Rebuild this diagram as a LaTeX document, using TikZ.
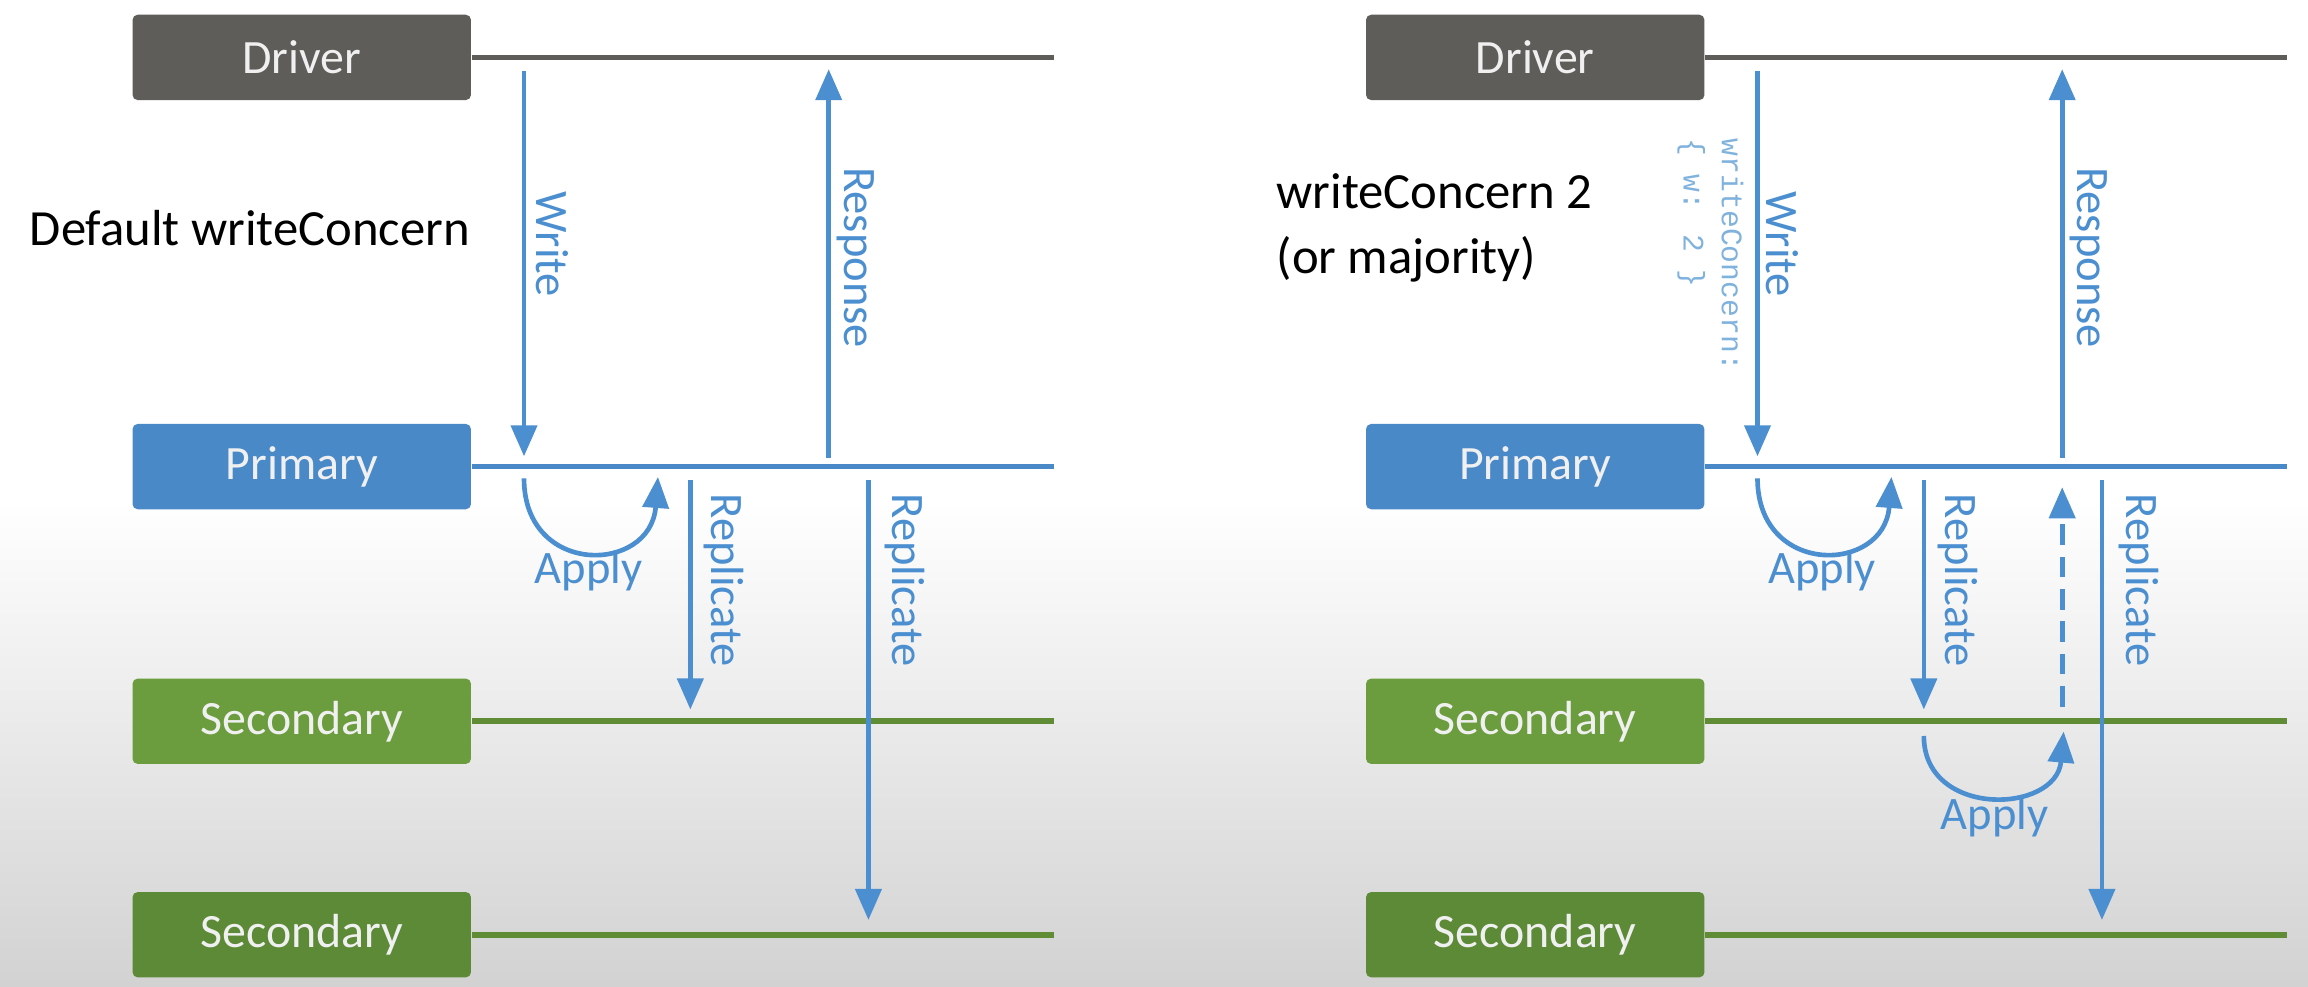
\documentclass[tikz,border=0pt]{standalone}
\usepackage{fontspec}
\setmainfont{Carlito}
\newfontfamily\monof{Liberation Mono}
\usetikzlibrary{arrows.meta}
\definecolor{drivergray}{HTML}{5E5D59}
\definecolor{primblue}{HTML}{4A89C8}
\definecolor{arrblue}{HTML}{4B8FD1}
\definecolor{lightblue}{HTML}{80B2DE}
\definecolor{secgreenA}{HTML}{6B9C3D}
\definecolor{secgreenB}{HTML}{5D8A37}
\definecolor{greenline}{HTML}{5F8C35}
\definecolor{bggray}{HTML}{D2D2D2}
\begin{document}
\begin{tikzpicture}[x=0.02cm,y=-0.02cm,
  box/.style={rounded corners=2pt, minimum width=4.6cm, minimum height=1.16cm,
    text=white!94!black, font=\fontsize{18.5}{20}\selectfont, inner sep=0pt},
  hline/.style={line width=2.2pt},
  arr/.style={draw=arrblue, line width=1.8pt, -{Triangle[length=12pt,width=10pt]}},
  vlbl/.style={text=arrblue, font=\fontsize{18}{20}\selectfont, rotate=-90, inner sep=0pt},
  hlbl/.style={text=arrblue, font=\fontsize{18}{20}\selectfont, inner sep=0pt},
  title/.style={text=black, font=\fontsize{19.6}{25}\selectfont, align=left, anchor=west, inner sep=0pt},
  mono/.style={text=lightblue, font=\monof\fontsize{11.5}{14.8}\selectfont, rotate=-90, align=left, anchor=west, inner sep=0pt}
]
\useasboundingbox (0,0) rectangle (1568,670);
\fill[white] (0,0) rectangle (1568,670);
\shade[top color=white, bottom color=bggray] (0,340) rectangle (1568,670);

% ================= LEFT PANEL =================
\node[box, fill=drivergray] (dL) at (205,39) {Driver};
\node[box, fill=primblue] (pL) at (205,317) {Primary};
\node[box, fill=secgreenA] (saL) at (205,490) {Secondary};
\node[box, fill=secgreenB] (sbL) at (205,635) {Secondary};

\coordinate (dLe) at (716,39);
\coordinate (pLe) at (716,317);
\coordinate (saLe) at (716,490);
\coordinate (sbLe) at (716,635);
\draw[hline, draw=drivergray] (dL.east) -- (dLe);
\draw[hline, draw=primblue] (pL.east) -- (pLe);
\draw[hline, draw=greenline] (saL.east) -- (saLe);
\draw[hline, draw=greenline] (sbL.east) -- (sbLe);

\node[title] (tL) at (20,155) {Default writeConcern};

% Write
\coordinate (wLa) at (356,48);
\coordinate (wLb) at (356,310);
\draw[arr] (wLa) -- (wLb);
\node[vlbl] (wLl) at (375,166) {Write};
% Response
\coordinate (rLa) at (563,311);
\coordinate (rLb) at (563,47);
\draw[arr] (rLa) -- (rLb);
\node[vlbl] (rLl) at (581,175) {Response};
% Apply on primary
\coordinate (aLa) at (356,325);
\coordinate (aLb) at (447,324);
\draw[arr] (aLa) .. controls (356,392) and (442,390) .. (aLb);
\node[hlbl] (aLl) at (400,388) {Apply};
% Replicate 1
\coordinate (p1La) at (469,326);
\coordinate (p1Lb) at (469,482);
\draw[arr] (p1La) -- (p1Lb);
\node[vlbl] (p1Ll) at (492,394) {Replicate};
% Replicate 2
\coordinate (p2La) at (590,326);
\coordinate (p2Lb) at (590,625);
\draw[arr] (p2La) -- (p2Lb);
\node[vlbl] (p2Ll) at (615,394) {Replicate};

% ================= RIGHT PANEL =================
\node[box, fill=drivergray] (dR) at (1043,39) {Driver};
\node[box, fill=primblue] (pR) at (1043,317) {Primary};
\node[box, fill=secgreenA] (saR) at (1043,490) {Secondary};
\node[box, fill=secgreenB] (sbR) at (1043,635) {Secondary};

\coordinate (dRe) at (1554,39);
\coordinate (pRe) at (1554,317);
\coordinate (saRe) at (1554,490);
\coordinate (sbRe) at (1554,635);
\draw[hline, draw=drivergray] (dR.east) -- (dRe);
\draw[hline, draw=primblue] (pR.east) -- (pRe);
\draw[hline, draw=greenline] (saR.east) -- (saRe);
\draw[hline, draw=greenline] (sbR.east) -- (sbRe);

\node[title] (tR) at (867,155) {writeConcern 2\\(or majority)};

% Write
\coordinate (wRa) at (1194,48);
\coordinate (wRb) at (1194,310);
\draw[arr] (wRa) -- (wRb);
\node[vlbl] (wRl) at (1211,166) {Write};
\node[mono] (wcR) at (1162,94) {writeConcern:\\\{ w: 2 \}};
% Response
\coordinate (rRa) at (1401,311);
\coordinate (rRb) at (1401,47);
\draw[arr] (rRa) -- (rRb);
\node[vlbl] (rRl) at (1419,175) {Response};
% Apply on primary
\coordinate (aRa) at (1194,325);
\coordinate (aRb) at (1285,324);
\draw[arr] (aRa) .. controls (1194,392) and (1280,390) .. (aRb);
\node[hlbl] (aRl) at (1238,388) {Apply};
% Replicate 1
\coordinate (p1Ra) at (1307,326);
\coordinate (p1Rb) at (1307,482);
\draw[arr] (p1Ra) -- (p1Rb);
\node[vlbl] (p1Rl) at (1330,394) {Replicate};
% Apply on secondary
\coordinate (asRa) at (1307,500);
\coordinate (asRb) at (1402,497);
\draw[arr] (asRa) .. controls (1307,556) and (1397,553) .. (asRb);
\node[hlbl] (asRl) at (1355,555) {Apply};
% Dashed acknowledgement
\coordinate (ackRa) at (1401,480);
\coordinate (ackRb) at (1401,331);
\draw[arr, dash pattern=on 8pt off 4.5pt] (ackRa) -- (ackRb);
% Replicate 2
\coordinate (p2Ra) at (1428,326);
\coordinate (p2Rb) at (1428,625);
\draw[arr] (p2Ra) -- (p2Rb);
\node[vlbl] (p2Rl) at (1453,394) {Replicate};
\end{tikzpicture}
\end{document}
